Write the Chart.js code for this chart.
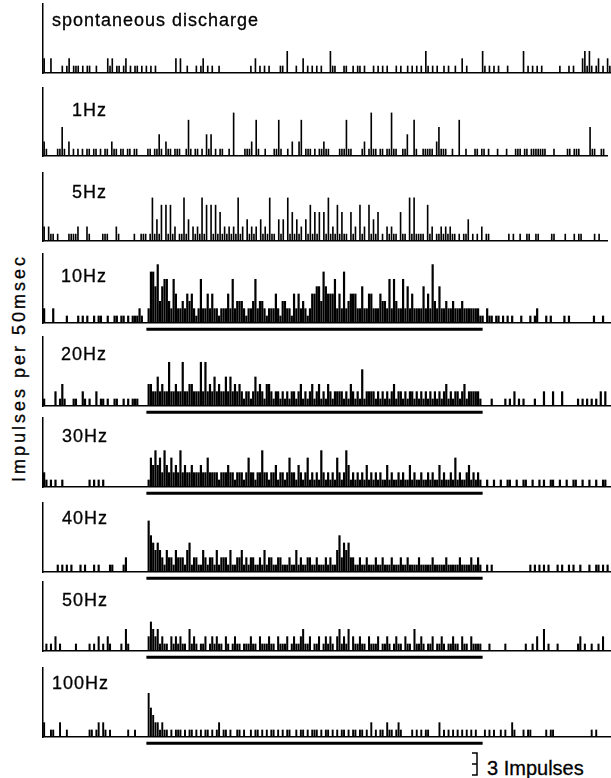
<!DOCTYPE html>
<html>
<head>
<meta charset="utf-8">
<script src="https://cdn.jsdelivr.net/npm/chart.js@4.4.1/dist/chart.umd.min.js"></script>
<style>
  html, body { margin: 0; padding: 0; background: #fff; }
  #page { position: relative; width: 611px; height: 778px; overflow: hidden; font-family: "Liberation Sans", Arial, sans-serif; color: #000; }
  #page canvas { position: absolute; left: 0; }
  .lbl { position: absolute; font-size: 18px; line-height: 18px; letter-spacing: 1px; white-space: nowrap; -webkit-text-stroke: 0.3px #000; }
  #ytitle { position: absolute; left: -101px; top: 359px; width: 240px; text-align: center; font-size: 18px; line-height: 18px; letter-spacing: 3px; transform: rotate(-90deg); white-space: nowrap; -webkit-text-stroke: 0.3px #000; }
  #scaleText { position: absolute; left: 487px; top: 758px; font-size: 20px; line-height: 20px; white-space: nowrap; -webkit-text-stroke: 0.3px #000; }
  #scaleBar { position: absolute; left: 0; top: 0; }
</style>
</head>
<body>
<div id="page">
  <div id="ytitle">Impulses per 50msec</div>
  <div id="scaleText">3 Impulses</div>
</div>
<script>
// impulses per 50 msec, one digit per 0.1 s bin, 250 bins across the sweep
var spontaneous =
  '2002000010 1201110101 1001000021 2011012010 1101010101 0000000020 2001000101 2010100100 0000000000 0102010101 ' +
  '0000110300 0100201010 1010003110 0011001011 0100010101 0100010100 1010101031 0101001010 0100201000 0003101010 ' +
  '1000100000 0301010101 0000000100 0101000231 3101201021';
var hz1 =
  '2100001141 0201010101 1011010110 2110110110 1100001101 1310211011 1001510110 1031301011 0010600001 1120510010 ' +
  '0011510010 2002501110 1011211000 0111511000 0120161101 1011611001 1300510011 1110241110 0100500100 0110110100 ' +
  '0100010001 1101101111 1110001000 0011011100 0041100110';
var hz5 =
  '2021101000 0111120002 1000001110 0021000000 1001110161 3150515120 1161302121 6150515141 2121216120 3121203121 ' +
  '6110313061 4131203151 4140416121 5141104120 5120513140 1021211041 1061611110 5120112121 2110101130 1010201100 ' +
  '0000001010 0100110011 0000011000 0100010110 0000101000';
var hz10 =
  '2000200000 1000010101 0010110010 0110110101 1121002775 8356632642 2324342126 2242422122 2426233321 2236233212 ' +
  '2242133221 4242321244 5537544462 4272344422 5224422243 3262632262 5242222524 2832522322 3222322222 2211021101 ' +
  '1010101000 1000101200 0101000001 0100000000 0010001000';
var hz20 =
  '1000020131 0001100210 1002011010 0110010101 1100003322 4232262232 2622332226 2623242322 4242323212 2124232133 ' +
  '2122121212 2123121231 2312132122 2212132121 5122221212 1212312212 1221212121 2121212312 1221231222 2210000100 ' +
  '0001010201 0100001000 2000200020 0000010101 0101020200';
var hz30 =
  '2101010010 0000000000 1010101000 0000000000 0000001435 3425324232 5232232223 2242222122 2322122212 4221225221 ' +
  '2231221242 2132124121 2152121214 2125312121 2131212121 1312112121 1312112112 1211312112 1412112312 1210010010 ' +
  '0100110010 0110010010 1001100100 1001100100 1001001100';
var hz40 =
  '0000001010 1010001010 0010100001 1000012000 0000007543 4321322132 2213412211 3212213122 2131122312 1221121312 ' +
  '2112211121 1312112211 2111212113 5243422112 1121112112 1112111211 2111121111 1211111211 1112111121 1210010100 ' +
  '0000000000 0000101010 1010001010 0101001000 1001101010';
var hz50 =
  '0101020100 0000100000 1010201021 0000103100 0000002432 3121102121 2110312101 1201212110 2101211011 1211021112 ' +
  '1102111201 2112311201 1201212102 3121302112 1102111201 1210121102 1103112101 1201121011 2110211021 1110001000 ' +
  '0001000000 0010010200 3010001000 0000012010 0100102000';
var hz100 =
  '2001100200 1000000000 1101202101 0000000100 1000006432 2121101011 1010110101 0110101201 1010011010 0101101010 ' +
  '1101010110 0101101011 1010110101 0110101101 1010201011 0211012100 0010101011 0000201010 1010101010 1000101010 ' +
  '0101002100 0101100000 0101100000 0000000000 0101000000';

var panelNames = ['spontaneous discharge', '1Hz', '5Hz', '10Hz', '20Hz', '30Hz', '40Hz', '50Hz', '100Hz'];
var panelCounts = [spontaneous, hz1, hz5, hz10, hz20, hz30, hz40, hz50, hz100];

// stimulus marks, as bin numbers
var pulses1Hz = [54, 64, 74, 84, 94, 104, 114, 124, 134, 144, 154, 164, 174, 184];
var pulses5Hz = [48, 50, 52, 54, 56, 58, 60, 62, 64, 66, 68, 70, 72, 74, 76, 78, 80, 82, 84, 86, 88, 90, 92, 94,
  96, 98, 100, 102, 104, 106, 108, 110, 112, 114, 116, 118, 120, 122, 124, 126, 128, 130, 132, 134, 136, 138, 140,
  142, 144, 146, 148, 150, 152, 154, 156, 158, 160, 162, 164, 166, 168, 170, 172, 174, 176, 178, 180, 182, 184, 186,
  188, 190, 192];
var trainBins = [45, 193];

// layout
var baselines = [73, 156, 241, 323, 406, 487, 572, 651, 737];
var labelPos = [[52, 11], [72, 101], [72, 183], [61, 267], [61, 345], [62, 427], [62, 509], [62, 591], [52, 674]];
var barWidth = [0.72, 0.72, 0.72, 0.97, 0.97, 0.97, 0.95, 0.9, 0.85];
var plotH = 69, yMax = 9.4, padTop = 3, padBottom = 14;

var page = document.getElementById('page');
var bins = [];
for (var b = 0; b < 250; b++) bins.push(b);

panelNames.forEach(function (name, i) {
  var cv = document.createElement('canvas');
  cv.width = 611;
  cv.height = plotH + padTop + padBottom;
  cv.style.top = (baselines[i] - plotH - padTop) + 'px';
  page.appendChild(cv);

  var lbl = document.createElement('div');
  lbl.className = 'lbl';
  lbl.textContent = name;
  lbl.style.left = labelPos[i][0] + 'px';
  lbl.style.top = labelPos[i][1] + 'px';
  page.appendChild(lbl);

  var counts = panelCounts[i].replace(/\s+/g, '').split('').map(Number);
  var datasets = [{
    type: 'bar', data: counts, backgroundColor: '#000', borderWidth: 0,
    barPercentage: barWidth[i], categoryPercentage: 1, order: 1
  }];

  var stim = i === 1 ? pulses1Hz : i === 2 ? pulses5Hz : i >= 3 ? trainBins : null;
  if (stim) {
    var isTrain = i >= 3;
    datasets.push({
      type: 'line',
      data: stim.map(function (s) { return { x: s, y: -0.85 }; }),
      clip: false,
      showLine: isTrain,
      borderColor: '#000', borderWidth: 3, borderCapStyle: 'butt',
      pointRadius: isTrain ? 0 : 1.2,
      pointBackgroundColor: '#000', pointBorderWidth: 0,
      order: 0
    });
  }

  new Chart(cv, {
    type: 'bar',
    data: { labels: bins, datasets: datasets },
    options: {
      responsive: false,
      animation: false,
      events: [],
      layout: { padding: { left: 43, right: 0, top: padTop, bottom: padBottom } },
      plugins: { legend: { display: false }, tooltip: { enabled: false } },
      scales: {
        x: {
          type: 'category', offset: true,
          ticks: { display: false },
          grid: { display: false, drawTicks: false },
          border: { color: '#000', width: 1.5 }
        },
        y: {
          min: 0, max: yMax,
          ticks: { display: false },
          grid: { display: false, drawTicks: false },
          border: { color: '#000', width: 1.5 }
        }
      }
    }
  });
});

// 3-impulse scale bracket
var h3 = 3 * plotH / yMax;
var yb = 775;
var svgNS = 'http://www.w3.org/2000/svg';
var svg = document.createElementNS(svgNS, 'svg');
svg.setAttribute('id', 'scaleBar');
svg.setAttribute('width', '611');
svg.setAttribute('height', '778');
var path = document.createElementNS(svgNS, 'path');
path.setAttribute('d', 'M472 ' + (yb - h3) + ' H477 V' + yb + ' H472 M472 ' + (yb - h3 / 2) + ' H477');
path.setAttribute('stroke', '#000');
path.setAttribute('stroke-width', '1.5');
path.setAttribute('fill', 'none');
svg.appendChild(path);
page.appendChild(svg);
</script>
</body>
</html>
